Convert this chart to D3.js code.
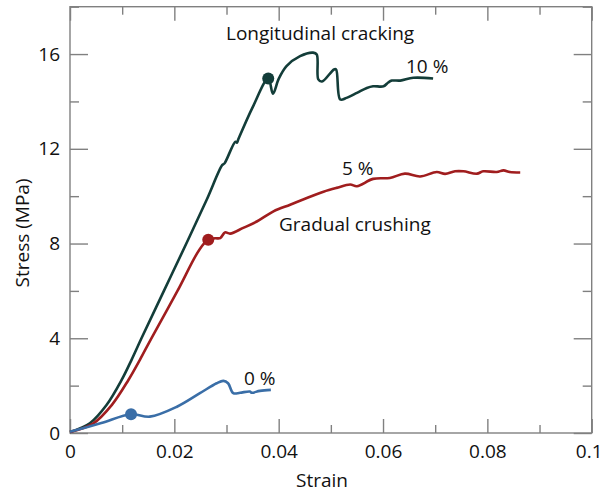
<!DOCTYPE html>
<html>
<head>
<meta charset="utf-8">
<script src="https://cdn.jsdelivr.net/npm/d3@7"></script>
<style>
  body { margin: 0; background: #fff; }
  svg text { font-family: "Open Sans", sans-serif; fill: #111; }
  .axis line { stroke: #808080; stroke-width: 1.4; }
  .axis path { display: none; }
  .axis text { font-size: 19px; }
</style>
</head>
<body>
<svg class="chart"></svg>
<script>
// ---- data ----
const xMajor = [0, 0.02, 0.04, 0.06, 0.08, 0.1];
const xMinor = [0.01, 0.03, 0.05, 0.07, 0.09];
const yMajor = [0, 4, 8, 12, 16];
const yMinor = [2, 6, 10, 14, 18];

// 10 % fibres
const strain10 = [0, 0.0038, 0.0070, 0.0099, 0.0118, 0.0137, 0.0180, 0.0223, 0.0262, 0.0292, 0.0296, 0.0317, 0.0320, 0.0323, 0.0350, 0.0380,
  0.0389, 0.0400, 0.0415, 0.0441, 0.0466, 0.0473, 0.0476, 0.0483, 0.0506, 0.0510, 0.0518, 0.0530, 0.0550, 0.0569, 0.0581, 0.0601, 0.0610, 0.0617, 0.0633, 0.0658, 0.0696];
const stress10 = [0.04, 0.41, 1.18, 2.24, 3.09, 4.00, 6.00, 8.00, 9.85, 11.32, 11.38, 12.30, 12.26, 12.42, 13.75, 14.97,
  14.33, 14.95, 15.49, 15.91, 16.06, 15.98, 14.93, 14.84, 15.35, 15.35, 14.08, 14.15, 14.36, 14.57, 14.64, 14.64, 14.80, 14.88, 14.88, 15.00, 14.97];

// 5 % fibres
const strain5 = [0, 0.0045, 0.0080, 0.0112, 0.0134, 0.0156, 0.0206, 0.0248, 0.0265, 0.0278, 0.0288, 0.0297, 0.0307, 0.0332, 0.0358, 0.0390,
  0.0422, 0.0454, 0.0486, 0.0511, 0.0537, 0.0550, 0.0581, 0.0613, 0.0642, 0.0671, 0.0703, 0.0719, 0.0738, 0.0754, 0.0780, 0.0792, 0.0818, 0.0831, 0.0843, 0.0863];
const stress5 = [0.04, 0.41, 1.18, 2.24, 3.09, 4.00, 6.00, 7.74, 8.16, 8.22, 8.23, 8.47, 8.42, 8.66, 8.93, 9.36,
  9.64, 9.92, 10.19, 10.35, 10.49, 10.42, 10.73, 10.77, 10.95, 10.83, 11.02, 10.94, 11.05, 11.05, 10.95, 11.05, 11.02, 11.09, 11.02, 11.00];

// 0 % fibres
const strain0 = [0, 0.0060, 0.0117, 0.0153, 0.0205, 0.0249, 0.0281, 0.0294, 0.0303, 0.0313, 0.0326, 0.0345, 0.0348, 0.0364, 0.0385];
const stress0 = [0.05, 0.42, 0.79, 0.69, 1.11, 1.68, 2.10, 2.20, 2.10, 1.68, 1.70, 1.75, 1.70, 1.78, 1.82];

// first-crack markers
const markStrain = [0.0380, 0.0265, 0.0117];
const markStress = [14.97, 8.16, 0.79];
const colors = ["#133d39", "#a01d1e", "#3a6ea7"];

// ---- layout ----
const W = 603, H = 495;
const margin = { top: 6.7, left: 70, bottom: 62, right: 11.3 };

let svg = d3.select("svg.chart")
    .attr("width", W)
    .attr("height", H);

let x = d3.scaleLinear().domain([0, 0.1]).range([margin.left, W - margin.right]);
let y = d3.scaleLinear().domain([0, 18]).range([H - margin.bottom, margin.top]);

let fmt = d => d === 0 ? "0" : String(+d.toFixed(2));

// bottom
let xAxis = svg.append("g").attr("class", "axis")
    .attr("transform", `translate(0, ${y(0)})`)
    .call(d3.axisBottom(x).tickValues(xMajor).tickSize(-14).tickPadding(12).tickFormat(fmt));
// keep "0.1" inside the page
xAxis.selectAll(".tick text").filter(d => d === 0.1).attr("dx", -3);
svg.append("g").attr("class", "axis")
    .attr("transform", `translate(0, ${y(0)})`)
    .call(d3.axisBottom(x).tickValues(xMinor).tickSize(-8).tickFormat(""));
// top
svg.append("g").attr("class", "axis")
    .attr("transform", `translate(0, ${y(18)})`)
    .call(d3.axisTop(x).tickValues(xMajor).tickSize(-14).tickFormat(""));
svg.append("g").attr("class", "axis")
    .attr("transform", `translate(0, ${y(18)})`)
    .call(d3.axisTop(x).tickValues(xMinor).tickSize(-8).tickFormat(""));
// left
svg.append("g").attr("class", "axis")
    .attr("transform", `translate(${x(0)}, 0)`)
    .call(d3.axisLeft(y).tickValues(yMajor).tickSize(-18).tickPadding(10));
svg.append("g").attr("class", "axis")
    .attr("transform", `translate(${x(0)}, 0)`)
    .call(d3.axisLeft(y).tickValues(yMinor).tickSize(-9).tickFormat(""));
// right
svg.append("g").attr("class", "axis")
    .attr("transform", `translate(${x(0.1)}, 0)`)
    .call(d3.axisRight(y).tickValues(yMajor).tickSize(-18).tickFormat(""));
svg.append("g").attr("class", "axis")
    .attr("transform", `translate(${x(0.1)}, 0)`)
    .call(d3.axisRight(y).tickValues(yMinor).tickSize(-9).tickFormat(""));

// frame
svg.append("rect")
    .attr("x", x(0)).attr("y", y(18))
    .attr("width", x(0.1) - x(0)).attr("height", y(0) - y(18))
    .attr("fill", "none").attr("stroke", "#808080").attr("stroke-width", 1.4);

// curves
let line = d3.line()
    .x(d => x(d[0]))
    .y(d => y(d[1]))
    .curve(d3.curveCatmullRom.alpha(0.5));

let series = [
    d3.zip(strain10, stress10),
    d3.zip(strain5, stress5),
    d3.zip(strain0, stress0)
];

svg.selectAll(".curve")
    .data(series)
  .enter().append("path")
    .attr("class", "curve")
    .attr("fill", "none")
    .attr("stroke", (d, i) => colors[i])
    .attr("stroke-width", 2.6)
    .attr("stroke-linejoin", "round")
    .attr("d", line);

svg.selectAll(".mark")
    .data(d3.zip(markStrain, markStress))
  .enter().append("circle")
    .attr("class", "mark")
    .attr("cx", d => x(d[0]))
    .attr("cy", d => y(d[1]))
    .attr("r", 6)
    .attr("fill", (d, i) => colors[i]);

// labels
let label = (tx, ty, t) => svg.append("text")
    .attr("x", tx).attr("y", ty)
    .style("font-size", "19px")
    .text(t);

label(226, 40, "Longitudinal cracking");
label(406, 73, "10 %");
label(342, 175, "5 %");
label(279, 231, "Gradual crushing");
label(244, 385, "0 %");

svg.append("text")
    .attr("x", 322).attr("y", 487)
    .attr("text-anchor", "middle")
    .style("font-size", "19px")
    .text("Strain");

svg.append("text")
    .attr("transform", "translate(29, 233) rotate(-90)")
    .attr("text-anchor", "middle")
    .style("font-size", "19px")
    .text("Stress (MPa)");
</script>
</body>
</html>
